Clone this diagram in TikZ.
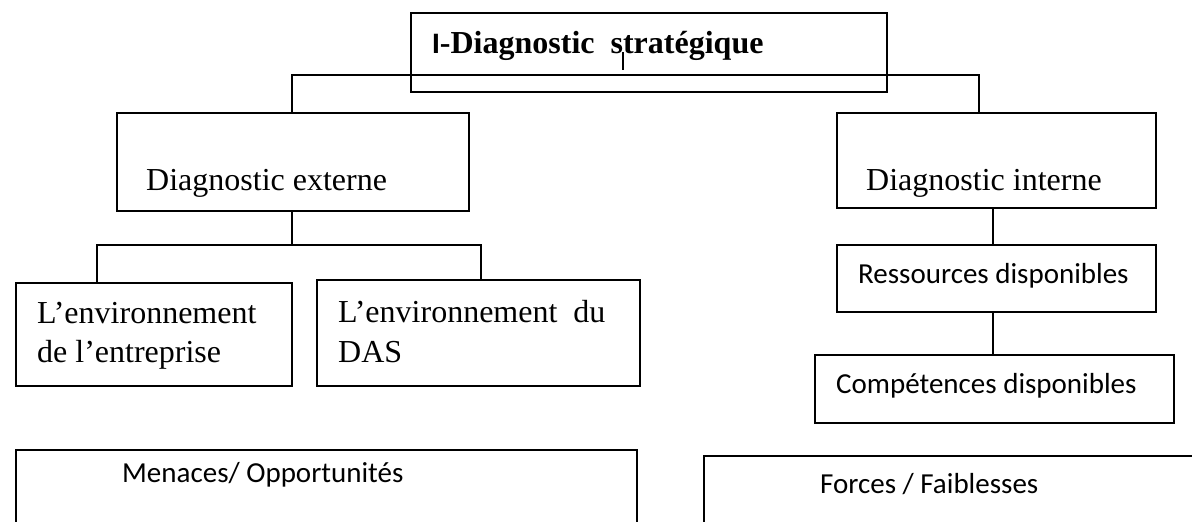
\documentclass[tikz,border=0pt]{standalone}
\usepackage{fontspec}
\setmainfont{Liberation Serif}
\newfontfamily\calibrifont{Carlito}
\newfontfamily\arialfont{Liberation Sans}
\begin{document}
\begin{tikzpicture}[x=1pt,y=-1pt,
  box/.style={draw=black, line width=1.6pt, inner sep=0pt, outer sep=0pt,
              rectangle, anchor=north west},
  link/.style={draw=black, line width=1.4pt},
  serif/.style={inner sep=0pt, anchor=base west,
                font=\fontsize{32}{36}\selectfont},
  sans/.style={inner sep=0pt, anchor=base west,
               font=\calibrifont\fontsize{29}{34}\selectfont}]
\useasboundingbox (0,0) rectangle (1192,522);
\clip (0,0) rectangle (1192,522);

% boxes
\node[box, minimum width=476pt, minimum height=79pt]  (top)  at (411,13)  {};
\node[box, minimum width=352pt, minimum height=98pt]  (dext) at (117,113) {};
\node[box, minimum width=319pt, minimum height=95pt]  (dint) at (837,113) {};
\node[box, minimum width=276pt, minimum height=103pt] (envE) at (16,283)  {};
\node[box, minimum width=323pt, minimum height=106pt] (envD) at (317,280) {};
\node[box, minimum width=319pt, minimum height=67pt]  (res)  at (837,245) {};
\node[box, minimum width=359pt, minimum height=68pt]  (comp) at (815,355) {};
\node[box, minimum width=621pt, minimum height=120pt] (mo)   at (16,450)  {};
\node[box, minimum width=520pt, minimum height=120pt] (ff)   at (704,456) {};

% labels
\node[serif] (ttop) at (432,53)
  {\bfseries{\arialfont\fontsize{28}{32}\selectfont I}-Diagnostic\ \ stratégique};
\node[serif] (tdext) at (146,190) {Diagnostic externe};
\node[serif] (tdint) at (866,190) {Diagnostic interne};
\node[serif] (tenvE1) at (37,323) {L’environnement};
\node[serif] (tenvE2) at (37,362) {de l’entreprise};
\node[serif] (tenvD1) at (338,322) {L’environnement\ \ du};
\node[serif] (tenvD2) at (338,362) {DAS};
\node[sans] (tres)  at (858,283) {Ressources disponibles};
\node[sans] (tcomp) at (836,393) {Compétences disponibles};
\node[sans] (tmo)   at (122,482) {Menaces/ Opportunités};
\node[sans] (tff)   at (820,493) {Forces / Faiblesses};

% junction points of the tree
\coordinate (jl) at (292,75);
\coordinate (jr) at (979,75);
\coordinate (je) at (292,245);
\coordinate (jeL) at (97,245);
\coordinate (jeR) at (481,245);
\coordinate (cur) at (623,52);

% connectors
\draw[link] (dext.north -| jl) -- (jl) -- (jr) -- (jr |- dint.north);
\draw[link] (dext.south -| je) -- (je);
\draw[link] (jeL |- envE.north) -- (jeL) -- (jeR) -- (jeR |- envD.north);
\draw[link] (dint.south -| 993,0) -- (res.north -| 993,0);
\draw[link] (res.south -| 993,0) -- (comp.north -| 993,0);
\draw[link] (cur) -- ++(0,18);
\end{tikzpicture}
\end{document}
